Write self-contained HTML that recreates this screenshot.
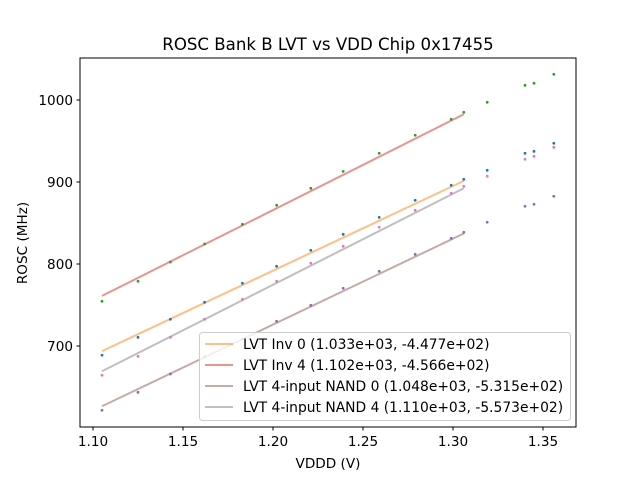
<!DOCTYPE html>
<html><head><meta charset="utf-8"><style>
body{margin:0;background:#fff}
svg{display:block;font-family:"DejaVu Sans","Liberation Sans",sans-serif}
</style></head><body>
<svg id="chart" width="640" height="480" viewBox="0 0 640 480">
<rect width="640" height="480" fill="#fff"/>
<text x="328" y="50" text-anchor="middle" font-size="16.6">ROSC Bank B LVT vs VDD Chip 0x17455</text>
<text x="328" y="468" text-anchor="middle" font-size="13.6">VDDD (V)</text>
<text transform="translate(27,243) rotate(-90)" text-anchor="middle" font-size="13.6">ROSC (MHz)</text>
<g id="ticks"></g>
<g id="marks"></g>
<rect x="80" y="58" width="496" height="369" fill="none" stroke="#000" stroke-width="1"/>
<g id="legend"></g>
</svg>
<script>
const vddd=[1.105,1.125,1.143,1.162,1.183,1.202,1.221,1.239,1.259,1.279,1.299,1.306,1.319,1.340,1.345,1.356];
const inv0=[688.7,710.6,732.6,753.3,776.5,797.2,816.7,836.2,856.9,877.7,896,903.3,914.3,935,937.4,947.2];
const inv4=[754.5,779,802.4,824.4,848.4,871.6,892.3,913.0,935.0,957,976.5,985,997.2,1017.9,1020.4,1031.3];
const nand0=[621.6,643.5,665.9,687,708.5,730.2,749.6,770.4,791.1,811.8,831.3,838.7,850.9,870.4,872.9,882.6];
const nand4=[664.3,687.4,710.6,732.6,757,778.9,800.9,821.6,844.8,865.5,886.2,894.8,907,927.7,931.3,942.3];
const fitSlopes=[1033,1102,1048,1110];
const fitIntercepts=[-447.7,-456.6,-531.5,-557.3];
const fitLabels=["LVT Inv 0 (1.033e+03, -4.477e+02)","LVT Inv 4 (1.102e+03, -4.566e+02)","LVT 4-input NAND 0 (1.048e+03, -5.315e+02)","LVT 4-input NAND 4 (1.110e+03, -5.573e+02)"];
const xTicks=[1.10,1.15,1.20,1.25,1.30,1.35];
const yTicks=[700,800,900,1000];
const fitEnd=11;

const NS="http://www.w3.org/2000/svg";
const X=v=>93+(v-1.10)*1800;
const Y=v=>346-(v-700)*0.82;
function mk(t,a,p){const e=document.createElementNS(NS,t);for(const k in a)e.setAttribute(k,a[k]);p.appendChild(e);return e;}
const tg=document.getElementById('ticks');
xTicks.forEach(t=>{
  const l=mk('line',{x1:X(t),x2:X(t),y1:427,y2:430.5,stroke:'#000'},tg);
  
  
  const s=mk('text',{x:X(t),y:446,'text-anchor':'middle','font-size':'13.6'},tg);
  s.textContent=t.toFixed(2);
  
  
});
yTicks.forEach(t=>{
  const l=mk('line',{x1:76.5,x2:80,y1:Y(t),y2:Y(t),stroke:'#000'},tg);
  
  
  const s=mk('text',{x:73,y:Y(t)+5,'text-anchor':'end','font-size':'13.6'},tg);
  s.textContent=t;
  
  
});
const mg=document.getElementById('marks');
const fitColors=['rgba(255,127,14,0.5)','rgba(214,39,40,0.5)','rgba(140,86,75,0.5)','rgba(127,127,127,0.5)'];
fitSlopes.forEach((m,i)=>{
  const x0=vddd[0],x1=vddd[fitEnd];
  const l=mk('line',{x1:X(x0),y1:Y(m*x0+fitIntercepts[i]),x2:X(x1),y2:Y(m*x1+fitIntercepts[i]),stroke:fitColors[i],'stroke-width':2},mg);
  
  
});
const series=[[inv0,'#1f77b4','inv0'],[inv4,'#2ca02c','inv4'],[nand0,'#9467bd','nand0'],[nand4,'#e377c2','nand4']];
series.forEach(([d,c,n])=>{
  d.forEach((v,j)=>{
    const p=mk('circle',{cx:X(vddd[j]),cy:Y(v),r:1.4,fill:c},mg);
    
    
  });
});
const lg=document.getElementById('legend');
const b=mk('rect',{x:199.5,y:332.5,width:371,height:88,rx:3,fill:'rgba(255,255,255,0.8)',stroke:'#ccc'},lg);


fitLabels.forEach((t,i)=>{
  const y=344+i*21;
  const l=mk('line',{x1:205,x2:233,y1:y,y2:y,stroke:fitColors[i],'stroke-width':2},lg);
  
  
  const s=mk('text',{x:243,y:y+5,'font-size':'13.85'},lg);
  s.textContent=t;
  
  
});
</script>
</body></html>
